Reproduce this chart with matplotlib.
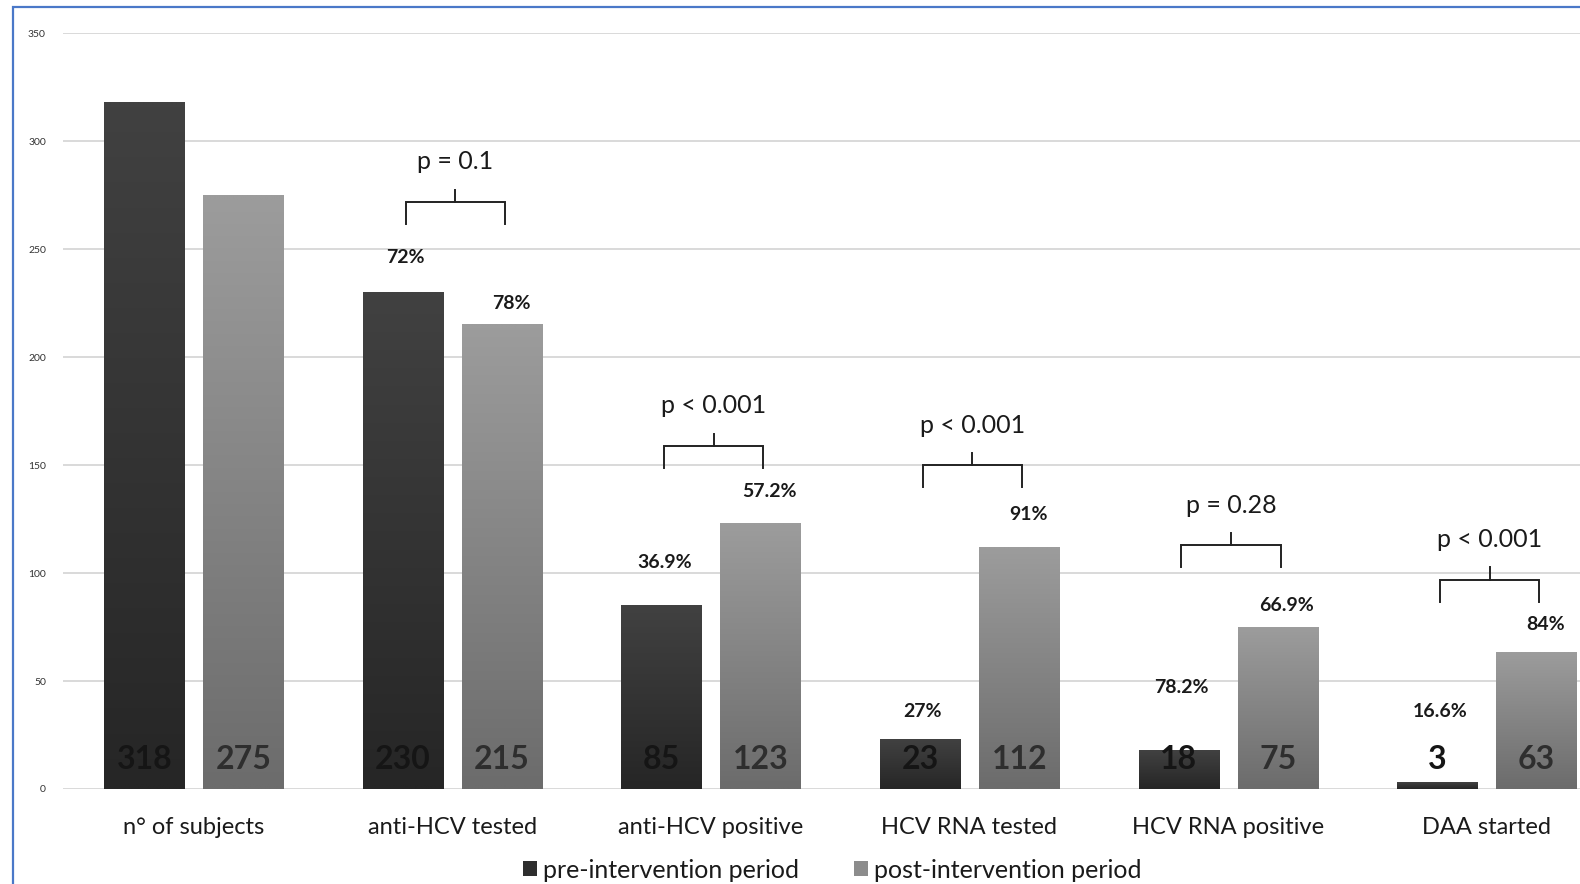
import numpy as np
import matplotlib
matplotlib.use("Agg")
import matplotlib.pyplot as plt
from matplotlib.patches import Patch, Rectangle

plt.rcParams['font.family'] = ['Lato', 'DejaVu Sans']

# Data
categories = ["n° of subjects", "anti-HCV tested", "anti-HCV positive",
              "HCV RNA tested", "HCV RNA positive", "DAA started"]
pre_values = [318, 230, 85, 23, 18, 3]
post_values = [275, 215, 123, 112, 75, 63]
pre_pct = [None, "72%", "36.9%", "27%", "78.2%", "16.6%"]
post_pct = [None, "78%", "57.2%", "91%", "66.9%", "84%"]
p_labels = [None, "p = 0.1", "p < 0.001", "p < 0.001", "p = 0.28", "p < 0.001"]

# Label heights (data units)
pre_pct_y = [None, 246, 105, 36, 47, 36]
post_pct_y = [None, 225, 138, 127, 85, 76]
bracket_y = [None, 272, 159, 150, 113, 97]

pre_top, pre_bot = "#414141", "#262626"
post_top, post_bot = "#9c9c9c", "#6c6c6c"

fig = plt.figure(figsize=(15.8, 8.84), dpi=100)
ax = fig.add_axes([0.0396, 0.1075, 0.9604, 0.8548])

x = np.arange(len(categories))
width = 0.312
off_pre, off_post = -0.19, 0.193


def grad_bar(xc, h, top, bot):
    c1 = np.array(matplotlib.colors.to_rgb(top))
    c2 = np.array(matplotlib.colors.to_rgb(bot))
    t = np.linspace(0, 1, 64)[:, None]
    img = (c1 * (1 - t) + c2 * t)[:, None, :]
    ax.imshow(img, extent=(xc - width / 2, xc + width / 2, 0, h),
              aspect='auto', origin='upper', zorder=2, interpolation='bilinear')


for i in x:
    grad_bar(i + off_pre, pre_values[i], pre_top, pre_bot)
    grad_bar(i + off_post, post_values[i], post_top, post_bot)

# value inside / at foot of bars
for i in x:
    ax.text(i + off_pre, 13.5, str(pre_values[i]), ha='center', va='center',
            fontsize=23, fontweight='bold', color='#151515', zorder=4)
    ax.text(i + off_post, 13.5, str(post_values[i]), ha='center', va='center',
            fontsize=23, fontweight='bold', color='#2e2e2e', zorder=4)

# percentages
for i in x:
    if pre_pct[i]:
        ax.text(i + off_pre + 0.01, pre_pct_y[i], pre_pct[i], ha='center',
                va='center', fontsize=14, fontweight='bold', color='#1a1a1a')
        ax.text(i + off_post + 0.035, post_pct_y[i], post_pct[i], ha='center',
                va='center', fontsize=14, fontweight='bold', color='#1a1a1a')

# significance brackets
for i in x:
    if p_labels[i] is None:
        continue
    y = bracket_y[i]
    xl, xr = i + off_pre + 0.01, i + off_post + 0.01
    xm = (xl + xr) / 2
    ax.plot([xl, xl, xr, xr], [y - 10.3, y, y, y - 10.3], color='#222222',
            lw=1.4, solid_joinstyle='miter', zorder=3)
    ax.plot([xm, xm], [y, y + 5.6], color='#222222', lw=1.4, zorder=3)
    ax.text(xm, y + 18.5, p_labels[i], ha='center', va='center',
            fontsize=18, color='#1a1a1a')

ax.set_xlim(-0.5066, 5.361)
ax.set_ylim(0, 350)
ax.set_yticks(range(0, 351, 50))
ax.yaxis.grid(True, color='#d9d9d9', lw=1.4)
ax.set_axisbelow(True)
for s in ax.spines.values():
    s.set_visible(False)
ax.tick_params(axis='y', length=0, labelsize=7.5, pad=12, labelcolor='#333333')
ax.set_xticks(x)
ax.set_xticklabels(categories, fontsize=17, color='#1a1a1a')
ax.tick_params(axis='x', length=0, pad=20)

handles = [Patch(facecolor='#2e2e2e', label='pre-intervention period'),
           Patch(facecolor='#8c8c8c', label='post-intervention period')]
fig.legend(handles=handles, loc='center', bbox_to_anchor=(832 / 1580, 1 - 870 / 884),
           ncol=2, frameon=False, fontsize=18, handlelength=0.55, handleheight=0.55,
           handletextpad=0.25, columnspacing=2.2, labelcolor='#1a1a1a')

# outer frame
fig.patches.append(Rectangle((13 / 1580, -0.05), 1.2, 1.05 - 7 / 884,
                             transform=fig.transFigure, fill=False,
                             edgecolor='#4a78c8', lw=1.6))

fig.savefig("out.png", dpi=100)
